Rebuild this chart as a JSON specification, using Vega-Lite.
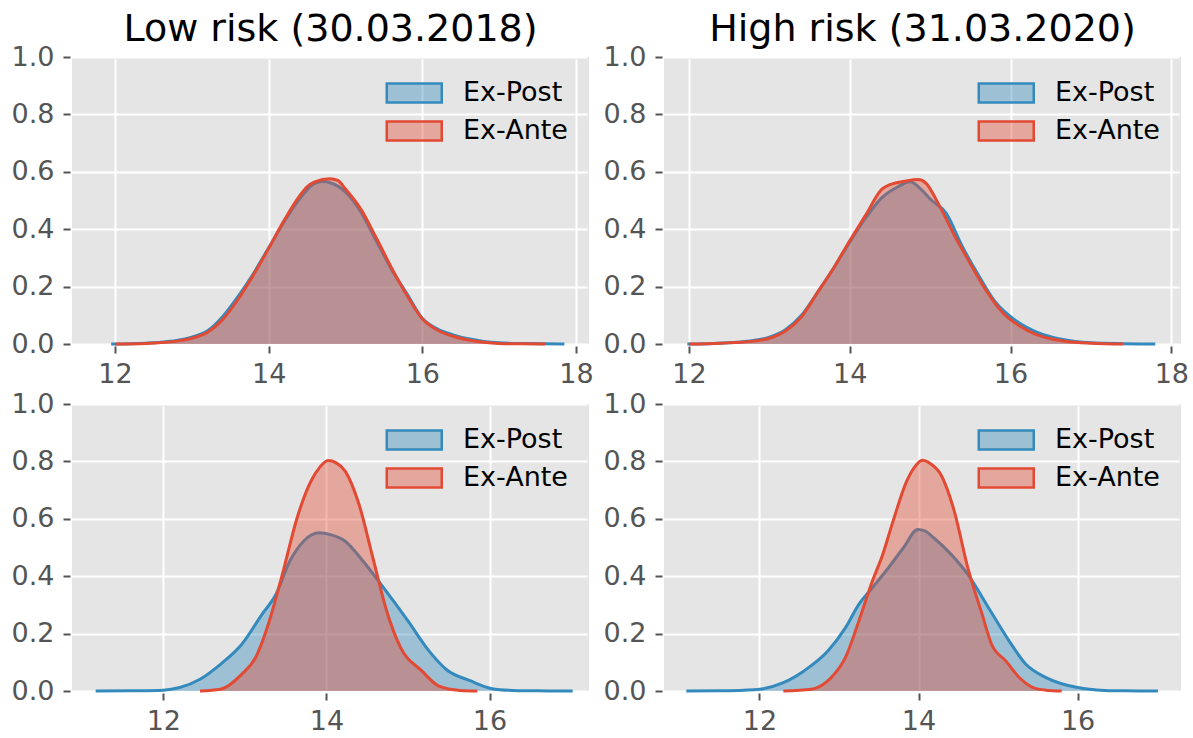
{
  "$schema": "https://vega.github.io/schema/vega-lite/v6.json",
  "padding": {"left": 11, "top": 11, "right": 5, "bottom": 5},
  "background": "white",
  "datasets": {
    "kde": [
      {"panel":"TL","series":"Ex-Post","x":11.95,"y":0},
      {"panel":"TL","series":"Ex-Post","x":12.2,"y":0.001},
      {"panel":"TL","series":"Ex-Post","x":12.4,"y":0.003},
      {"panel":"TL","series":"Ex-Post","x":12.6,"y":0.006},
      {"panel":"TL","series":"Ex-Post","x":12.8,"y":0.012},
      {"panel":"TL","series":"Ex-Post","x":13.0,"y":0.024},
      {"panel":"TL","series":"Ex-Post","x":13.2,"y":0.045},
      {"panel":"TL","series":"Ex-Post","x":13.4,"y":0.095},
      {"panel":"TL","series":"Ex-Post","x":13.6,"y":0.165},
      {"panel":"TL","series":"Ex-Post","x":13.8,"y":0.245},
      {"panel":"TL","series":"Ex-Post","x":14.0,"y":0.335},
      {"panel":"TL","series":"Ex-Post","x":14.2,"y":0.425},
      {"panel":"TL","series":"Ex-Post","x":14.4,"y":0.505},
      {"panel":"TL","series":"Ex-Post","x":14.6,"y":0.56},
      {"panel":"TL","series":"Ex-Post","x":14.7,"y":0.566},
      {"panel":"TL","series":"Ex-Post","x":14.8,"y":0.562},
      {"panel":"TL","series":"Ex-Post","x":15.0,"y":0.53},
      {"panel":"TL","series":"Ex-Post","x":15.2,"y":0.46},
      {"panel":"TL","series":"Ex-Post","x":15.4,"y":0.36},
      {"panel":"TL","series":"Ex-Post","x":15.6,"y":0.26},
      {"panel":"TL","series":"Ex-Post","x":15.8,"y":0.175},
      {"panel":"TL","series":"Ex-Post","x":16.0,"y":0.09},
      {"panel":"TL","series":"Ex-Post","x":16.2,"y":0.052},
      {"panel":"TL","series":"Ex-Post","x":16.4,"y":0.032},
      {"panel":"TL","series":"Ex-Post","x":16.6,"y":0.018},
      {"panel":"TL","series":"Ex-Post","x":16.8,"y":0.009},
      {"panel":"TL","series":"Ex-Post","x":17.0,"y":0.004},
      {"panel":"TL","series":"Ex-Post","x":17.3,"y":0.0015},
      {"panel":"TL","series":"Ex-Post","x":17.6,"y":0.0005},
      {"panel":"TL","series":"Ex-Post","x":17.85,"y":0},
      {"panel":"TL","series":"Ex-Ante","x":12.0,"y":0},
      {"panel":"TL","series":"Ex-Ante","x":12.4,"y":0.002},
      {"panel":"TL","series":"Ex-Ante","x":12.8,"y":0.01},
      {"panel":"TL","series":"Ex-Ante","x":13.0,"y":0.02},
      {"panel":"TL","series":"Ex-Ante","x":13.2,"y":0.04},
      {"panel":"TL","series":"Ex-Ante","x":13.4,"y":0.085},
      {"panel":"TL","series":"Ex-Ante","x":13.6,"y":0.155},
      {"panel":"TL","series":"Ex-Ante","x":13.8,"y":0.24},
      {"panel":"TL","series":"Ex-Ante","x":14.0,"y":0.333},
      {"panel":"TL","series":"Ex-Ante","x":14.2,"y":0.43},
      {"panel":"TL","series":"Ex-Ante","x":14.4,"y":0.515},
      {"panel":"TL","series":"Ex-Ante","x":14.5,"y":0.548},
      {"panel":"TL","series":"Ex-Ante","x":14.6,"y":0.565},
      {"panel":"TL","series":"Ex-Ante","x":14.8,"y":0.576},
      {"panel":"TL","series":"Ex-Ante","x":14.9,"y":0.57},
      {"panel":"TL","series":"Ex-Ante","x":15.0,"y":0.54},
      {"panel":"TL","series":"Ex-Ante","x":15.2,"y":0.47},
      {"panel":"TL","series":"Ex-Ante","x":15.4,"y":0.37},
      {"panel":"TL","series":"Ex-Ante","x":15.6,"y":0.265},
      {"panel":"TL","series":"Ex-Ante","x":15.8,"y":0.17},
      {"panel":"TL","series":"Ex-Ante","x":16.0,"y":0.088},
      {"panel":"TL","series":"Ex-Ante","x":16.2,"y":0.048},
      {"panel":"TL","series":"Ex-Ante","x":16.4,"y":0.027},
      {"panel":"TL","series":"Ex-Ante","x":16.6,"y":0.014},
      {"panel":"TL","series":"Ex-Ante","x":16.8,"y":0.006},
      {"panel":"TL","series":"Ex-Ante","x":17.0,"y":0.002},
      {"panel":"TL","series":"Ex-Ante","x":17.3,"y":0.0005},
      {"panel":"TL","series":"Ex-Ante","x":17.6,"y":0},

      {"panel":"TR","series":"Ex-Post","x":11.98,"y":0},
      {"panel":"TR","series":"Ex-Post","x":12.3,"y":0.002},
      {"panel":"TR","series":"Ex-Post","x":12.6,"y":0.006},
      {"panel":"TR","series":"Ex-Post","x":12.8,"y":0.012},
      {"panel":"TR","series":"Ex-Post","x":13.0,"y":0.024},
      {"panel":"TR","series":"Ex-Post","x":13.2,"y":0.05},
      {"panel":"TR","series":"Ex-Post","x":13.4,"y":0.1},
      {"panel":"TR","series":"Ex-Post","x":13.6,"y":0.18},
      {"panel":"TR","series":"Ex-Post","x":13.8,"y":0.265},
      {"panel":"TR","series":"Ex-Post","x":14.0,"y":0.355},
      {"panel":"TR","series":"Ex-Post","x":14.2,"y":0.44},
      {"panel":"TR","series":"Ex-Post","x":14.4,"y":0.51},
      {"panel":"TR","series":"Ex-Post","x":14.6,"y":0.548},
      {"panel":"TR","series":"Ex-Post","x":14.75,"y":0.565},
      {"panel":"TR","series":"Ex-Post","x":14.9,"y":0.535},
      {"panel":"TR","series":"Ex-Post","x":15.0,"y":0.505},
      {"panel":"TR","series":"Ex-Post","x":15.2,"y":0.455},
      {"panel":"TR","series":"Ex-Post","x":15.4,"y":0.34},
      {"panel":"TR","series":"Ex-Post","x":15.6,"y":0.24},
      {"panel":"TR","series":"Ex-Post","x":15.8,"y":0.15},
      {"panel":"TR","series":"Ex-Post","x":16.0,"y":0.095},
      {"panel":"TR","series":"Ex-Post","x":16.2,"y":0.058},
      {"panel":"TR","series":"Ex-Post","x":16.4,"y":0.033},
      {"panel":"TR","series":"Ex-Post","x":16.6,"y":0.018},
      {"panel":"TR","series":"Ex-Post","x":16.8,"y":0.009},
      {"panel":"TR","series":"Ex-Post","x":17.0,"y":0.004},
      {"panel":"TR","series":"Ex-Post","x":17.4,"y":0.001},
      {"panel":"TR","series":"Ex-Post","x":17.8,"y":0},
      {"panel":"TR","series":"Ex-Ante","x":12.0,"y":0},
      {"panel":"TR","series":"Ex-Ante","x":12.4,"y":0.003},
      {"panel":"TR","series":"Ex-Ante","x":12.8,"y":0.01},
      {"panel":"TR","series":"Ex-Ante","x":13.0,"y":0.02},
      {"panel":"TR","series":"Ex-Ante","x":13.2,"y":0.045},
      {"panel":"TR","series":"Ex-Ante","x":13.4,"y":0.095},
      {"panel":"TR","series":"Ex-Ante","x":13.6,"y":0.18},
      {"panel":"TR","series":"Ex-Ante","x":13.8,"y":0.265},
      {"panel":"TR","series":"Ex-Ante","x":14.0,"y":0.36},
      {"panel":"TR","series":"Ex-Ante","x":14.2,"y":0.45},
      {"panel":"TR","series":"Ex-Ante","x":14.4,"y":0.54},
      {"panel":"TR","series":"Ex-Ante","x":14.5,"y":0.555},
      {"panel":"TR","series":"Ex-Ante","x":14.7,"y":0.568},
      {"panel":"TR","series":"Ex-Ante","x":14.85,"y":0.573},
      {"panel":"TR","series":"Ex-Ante","x":14.95,"y":0.56},
      {"panel":"TR","series":"Ex-Ante","x":15.1,"y":0.49},
      {"panel":"TR","series":"Ex-Ante","x":15.3,"y":0.38},
      {"panel":"TR","series":"Ex-Ante","x":15.5,"y":0.28},
      {"panel":"TR","series":"Ex-Ante","x":15.7,"y":0.185},
      {"panel":"TR","series":"Ex-Ante","x":15.9,"y":0.11},
      {"panel":"TR","series":"Ex-Ante","x":16.1,"y":0.065},
      {"panel":"TR","series":"Ex-Ante","x":16.3,"y":0.035},
      {"panel":"TR","series":"Ex-Ante","x":16.5,"y":0.018},
      {"panel":"TR","series":"Ex-Ante","x":16.7,"y":0.009},
      {"panel":"TR","series":"Ex-Ante","x":17.0,"y":0.003},
      {"panel":"TR","series":"Ex-Ante","x":17.4,"y":0},

      {"panel":"BL","series":"Ex-Post","x":11.17,"y":0},
      {"panel":"BL","series":"Ex-Post","x":11.6,"y":0.001},
      {"panel":"BL","series":"Ex-Post","x":12.0,"y":0.003},
      {"panel":"BL","series":"Ex-Post","x":12.2,"y":0.012},
      {"panel":"BL","series":"Ex-Post","x":12.45,"y":0.041},
      {"panel":"BL","series":"Ex-Post","x":12.7,"y":0.093},
      {"panel":"BL","series":"Ex-Post","x":12.96,"y":0.162},
      {"panel":"BL","series":"Ex-Post","x":13.21,"y":0.267},
      {"panel":"BL","series":"Ex-Post","x":13.38,"y":0.336},
      {"panel":"BL","series":"Ex-Post","x":13.55,"y":0.452},
      {"panel":"BL","series":"Ex-Post","x":13.72,"y":0.522},
      {"panel":"BL","series":"Ex-Post","x":13.91,"y":0.551},
      {"panel":"BL","series":"Ex-Post","x":14.05,"y":0.545},
      {"panel":"BL","series":"Ex-Post","x":14.23,"y":0.522},
      {"panel":"BL","series":"Ex-Post","x":14.45,"y":0.452},
      {"panel":"BL","series":"Ex-Post","x":14.7,"y":0.36},
      {"panel":"BL","series":"Ex-Post","x":15.0,"y":0.244},
      {"panel":"BL","series":"Ex-Post","x":15.26,"y":0.139},
      {"panel":"BL","series":"Ex-Post","x":15.47,"y":0.075},
      {"panel":"BL","series":"Ex-Post","x":15.77,"y":0.035},
      {"panel":"BL","series":"Ex-Post","x":16.02,"y":0.009},
      {"panel":"BL","series":"Ex-Post","x":16.28,"y":0.002},
      {"panel":"BL","series":"Ex-Post","x":16.6,"y":0.0005},
      {"panel":"BL","series":"Ex-Post","x":17.02,"y":0},
      {"panel":"BL","series":"Ex-Ante","x":12.45,"y":0},
      {"panel":"BL","series":"Ex-Ante","x":12.7,"y":0.006},
      {"panel":"BL","series":"Ex-Ante","x":12.96,"y":0.058},
      {"panel":"BL","series":"Ex-Ante","x":13.13,"y":0.116},
      {"panel":"BL","series":"Ex-Ante","x":13.3,"y":0.244},
      {"panel":"BL","series":"Ex-Ante","x":13.47,"y":0.418},
      {"panel":"BL","series":"Ex-Ante","x":13.64,"y":0.603},
      {"panel":"BL","series":"Ex-Ante","x":13.81,"y":0.731},
      {"panel":"BL","series":"Ex-Ante","x":13.92,"y":0.78},
      {"panel":"BL","series":"Ex-Ante","x":14.02,"y":0.803},
      {"panel":"BL","series":"Ex-Ante","x":14.12,"y":0.795},
      {"panel":"BL","series":"Ex-Ante","x":14.23,"y":0.766},
      {"panel":"BL","series":"Ex-Ante","x":14.4,"y":0.65},
      {"panel":"BL","series":"Ex-Ante","x":14.57,"y":0.464},
      {"panel":"BL","series":"Ex-Ante","x":14.74,"y":0.278},
      {"panel":"BL","series":"Ex-Ante","x":14.91,"y":0.151},
      {"panel":"BL","series":"Ex-Ante","x":15.17,"y":0.07},
      {"panel":"BL","series":"Ex-Ante","x":15.38,"y":0.017},
      {"panel":"BL","series":"Ex-Ante","x":15.64,"y":0.002},
      {"panel":"BL","series":"Ex-Ante","x":15.85,"y":0},

      {"panel":"BR","series":"Ex-Post","x":11.08,"y":0},
      {"panel":"BR","series":"Ex-Post","x":11.5,"y":0.001},
      {"panel":"BR","series":"Ex-Post","x":11.8,"y":0.003},
      {"panel":"BR","series":"Ex-Post","x":12.0,"y":0.006},
      {"panel":"BR","series":"Ex-Post","x":12.3,"y":0.029},
      {"panel":"BR","series":"Ex-Post","x":12.56,"y":0.07},
      {"panel":"BR","series":"Ex-Post","x":12.86,"y":0.139},
      {"panel":"BR","series":"Ex-Post","x":13.08,"y":0.22},
      {"panel":"BR","series":"Ex-Post","x":13.25,"y":0.302},
      {"panel":"BR","series":"Ex-Post","x":13.42,"y":0.36},
      {"panel":"BR","series":"Ex-Post","x":13.59,"y":0.418},
      {"panel":"BR","series":"Ex-Post","x":13.81,"y":0.499},
      {"panel":"BR","series":"Ex-Post","x":13.99,"y":0.563},
      {"panel":"BR","series":"Ex-Post","x":14.08,"y":0.558},
      {"panel":"BR","series":"Ex-Post","x":14.19,"y":0.534},
      {"panel":"BR","series":"Ex-Post","x":14.41,"y":0.476},
      {"panel":"BR","series":"Ex-Post","x":14.62,"y":0.406},
      {"panel":"BR","series":"Ex-Post","x":14.88,"y":0.29},
      {"panel":"BR","series":"Ex-Post","x":15.14,"y":0.174},
      {"panel":"BR","series":"Ex-Post","x":15.35,"y":0.093},
      {"panel":"BR","series":"Ex-Post","x":15.61,"y":0.046},
      {"panel":"BR","series":"Ex-Post","x":16.0,"y":0.012},
      {"panel":"BR","series":"Ex-Post","x":16.34,"y":0.002},
      {"panel":"BR","series":"Ex-Post","x":16.6,"y":0.0005},
      {"panel":"BR","series":"Ex-Post","x":17.01,"y":0},
      {"panel":"BR","series":"Ex-Ante","x":12.3,"y":0},
      {"panel":"BR","series":"Ex-Ante","x":12.65,"y":0.006},
      {"panel":"BR","series":"Ex-Ante","x":12.9,"y":0.046},
      {"panel":"BR","series":"Ex-Ante","x":13.08,"y":0.116},
      {"panel":"BR","series":"Ex-Ante","x":13.25,"y":0.244},
      {"panel":"BR","series":"Ex-Ante","x":13.42,"y":0.383},
      {"panel":"BR","series":"Ex-Ante","x":13.55,"y":0.476},
      {"panel":"BR","series":"Ex-Ante","x":13.68,"y":0.592},
      {"panel":"BR","series":"Ex-Ante","x":13.85,"y":0.73},
      {"panel":"BR","series":"Ex-Ante","x":13.95,"y":0.78},
      {"panel":"BR","series":"Ex-Ante","x":14.05,"y":0.804},
      {"panel":"BR","series":"Ex-Ante","x":14.15,"y":0.792},
      {"panel":"BR","series":"Ex-Ante","x":14.28,"y":0.754},
      {"panel":"BR","series":"Ex-Ante","x":14.45,"y":0.626},
      {"panel":"BR","series":"Ex-Ante","x":14.62,"y":0.429},
      {"panel":"BR","series":"Ex-Ante","x":14.8,"y":0.267},
      {"panel":"BR","series":"Ex-Ante","x":14.92,"y":0.162},
      {"panel":"BR","series":"Ex-Ante","x":15.1,"y":0.104},
      {"panel":"BR","series":"Ex-Ante","x":15.27,"y":0.046},
      {"panel":"BR","series":"Ex-Ante","x":15.44,"y":0.012},
      {"panel":"BR","series":"Ex-Ante","x":15.6,"y":0.003},
      {"panel":"BR","series":"Ex-Ante","x":15.8,"y":0}
    ]
  },
  "data": {"name": "kde"},
  "columns": 2,
  "bounds": "flush",
  "spacing": {"row": 60, "column": 75},
  "resolve": {"legend": {"fill": "independent", "stroke": "independent"}},
  "concat": [
    {
      "width": 517, "height": 287,
      "title": {"text": "Low risk (30.03.2018)", "frame": "group"},
      "transform": [{"filter": "datum.panel === 'TL'"}],
      "encoding": {
        "x": {"field": "x", "type": "quantitative", "scale": {"domain": [11.44, 18.17], "nice": false, "zero": false}, "axis": {"values": [12, 14, 16, 18], "title": null}},
        "y": {"field": "y", "type": "quantitative", "scale": {"domain": [0, 1], "nice": false}, "axis": {"values": [0, 0.2, 0.4, 0.6, 0.8, 1], "format": ".1f", "title": null}}
      },
      "layer": [
        {"transform": [{"filter": "datum.series === 'Ex-Post'"}], "mark": {"type": "area", "interpolate": "monotone"},
         "encoding": {"fill": {"field": "series", "type": "nominal", "scale": {"domain": ["Ex-Post", "Ex-Ante"], "range": ["rgba(52,138,189,0.4)", "rgba(226,74,51,0.4)"]}, "legend": {"title": null, "orient": "top-right", "symbolType": "M-3,-0.7L1,-0.7L1,0.7L-3,0.7Z", "symbolSize": 756}}}},
        {"transform": [{"filter": "datum.series === 'Ex-Post'"}], "mark": {"type": "line", "interpolate": "monotone", "strokeWidth": 3},
         "encoding": {"stroke": {"field": "series", "type": "nominal", "scale": {"domain": ["Ex-Post", "Ex-Ante"], "range": ["#348ABD", "#E24A33"]}, "legend": {"title": null, "orient": "top-right", "symbolType": "M-3,-0.7L1,-0.7L1,0.7L-3,0.7Z", "symbolSize": 756}}}},
        {"transform": [{"filter": "datum.series === 'Ex-Ante'"}], "mark": {"type": "area", "interpolate": "monotone"},
         "encoding": {"fill": {"field": "series", "type": "nominal", "scale": {"domain": ["Ex-Post", "Ex-Ante"], "range": ["rgba(52,138,189,0.4)", "rgba(226,74,51,0.4)"]}, "legend": {"title": null, "orient": "top-right", "symbolType": "M-3,-0.7L1,-0.7L1,0.7L-3,0.7Z", "symbolSize": 756}}}},
        {"transform": [{"filter": "datum.series === 'Ex-Ante'"}], "mark": {"type": "line", "interpolate": "monotone", "strokeWidth": 3},
         "encoding": {"stroke": {"field": "series", "type": "nominal", "scale": {"domain": ["Ex-Post", "Ex-Ante"], "range": ["#348ABD", "#E24A33"]}, "legend": {"title": null, "orient": "top-right", "symbolType": "M-3,-0.7L1,-0.7L1,0.7L-3,0.7Z", "symbolSize": 756}}}}
      ]
    },
    {
      "width": 517, "height": 287,
      "title": {"text": "High risk (31.03.2020)", "frame": "group"},
      "transform": [{"filter": "datum.panel === 'TR'"}],
      "encoding": {
        "x": {"field": "x", "type": "quantitative", "scale": {"domain": [11.69, 18.12], "nice": false, "zero": false}, "axis": {"values": [12, 14, 16, 18], "title": null}},
        "y": {"field": "y", "type": "quantitative", "scale": {"domain": [0, 1], "nice": false}, "axis": {"values": [0, 0.2, 0.4, 0.6, 0.8, 1], "format": ".1f", "title": null}}
      },
      "layer": [
        {"transform": [{"filter": "datum.series === 'Ex-Post'"}], "mark": {"type": "area", "interpolate": "monotone"},
         "encoding": {"fill": {"field": "series", "type": "nominal", "scale": {"domain": ["Ex-Post", "Ex-Ante"], "range": ["rgba(52,138,189,0.4)", "rgba(226,74,51,0.4)"]}, "legend": {"title": null, "orient": "top-right", "symbolType": "M-3,-0.7L1,-0.7L1,0.7L-3,0.7Z", "symbolSize": 756}}}},
        {"transform": [{"filter": "datum.series === 'Ex-Post'"}], "mark": {"type": "line", "interpolate": "monotone", "strokeWidth": 3},
         "encoding": {"stroke": {"field": "series", "type": "nominal", "scale": {"domain": ["Ex-Post", "Ex-Ante"], "range": ["#348ABD", "#E24A33"]}, "legend": {"title": null, "orient": "top-right", "symbolType": "M-3,-0.7L1,-0.7L1,0.7L-3,0.7Z", "symbolSize": 756}}}},
        {"transform": [{"filter": "datum.series === 'Ex-Ante'"}], "mark": {"type": "area", "interpolate": "monotone"},
         "encoding": {"fill": {"field": "series", "type": "nominal", "scale": {"domain": ["Ex-Post", "Ex-Ante"], "range": ["rgba(52,138,189,0.4)", "rgba(226,74,51,0.4)"]}, "legend": {"title": null, "orient": "top-right", "symbolType": "M-3,-0.7L1,-0.7L1,0.7L-3,0.7Z", "symbolSize": 756}}}},
        {"transform": [{"filter": "datum.series === 'Ex-Ante'"}], "mark": {"type": "line", "interpolate": "monotone", "strokeWidth": 3},
         "encoding": {"stroke": {"field": "series", "type": "nominal", "scale": {"domain": ["Ex-Post", "Ex-Ante"], "range": ["#348ABD", "#E24A33"]}, "legend": {"title": null, "orient": "top-right", "symbolType": "M-3,-0.7L1,-0.7L1,0.7L-3,0.7Z", "symbolSize": 756}}}}
      ]
    },
    {
      "width": 517, "height": 287,
      "transform": [{"filter": "datum.panel === 'BL'"}],
      "encoding": {
        "x": {"field": "x", "type": "quantitative", "scale": {"domain": [10.88, 17.22], "nice": false, "zero": false}, "axis": {"values": [12, 14, 16], "title": null}},
        "y": {"field": "y", "type": "quantitative", "scale": {"domain": [0, 1], "nice": false}, "axis": {"values": [0, 0.2, 0.4, 0.6, 0.8, 1], "format": ".1f", "title": null}}
      },
      "layer": [
        {"transform": [{"filter": "datum.series === 'Ex-Post'"}], "mark": {"type": "area", "interpolate": "monotone"},
         "encoding": {"fill": {"field": "series", "type": "nominal", "scale": {"domain": ["Ex-Post", "Ex-Ante"], "range": ["rgba(52,138,189,0.4)", "rgba(226,74,51,0.4)"]}, "legend": {"title": null, "orient": "top-right", "symbolType": "M-3,-0.7L1,-0.7L1,0.7L-3,0.7Z", "symbolSize": 756}}}},
        {"transform": [{"filter": "datum.series === 'Ex-Post'"}], "mark": {"type": "line", "interpolate": "monotone", "strokeWidth": 3},
         "encoding": {"stroke": {"field": "series", "type": "nominal", "scale": {"domain": ["Ex-Post", "Ex-Ante"], "range": ["#348ABD", "#E24A33"]}, "legend": {"title": null, "orient": "top-right", "symbolType": "M-3,-0.7L1,-0.7L1,0.7L-3,0.7Z", "symbolSize": 756}}}},
        {"transform": [{"filter": "datum.series === 'Ex-Ante'"}], "mark": {"type": "area", "interpolate": "monotone"},
         "encoding": {"fill": {"field": "series", "type": "nominal", "scale": {"domain": ["Ex-Post", "Ex-Ante"], "range": ["rgba(52,138,189,0.4)", "rgba(226,74,51,0.4)"]}, "legend": {"title": null, "orient": "top-right", "symbolType": "M-3,-0.7L1,-0.7L1,0.7L-3,0.7Z", "symbolSize": 756}}}},
        {"transform": [{"filter": "datum.series === 'Ex-Ante'"}], "mark": {"type": "line", "interpolate": "monotone", "strokeWidth": 3},
         "encoding": {"stroke": {"field": "series", "type": "nominal", "scale": {"domain": ["Ex-Post", "Ex-Ante"], "range": ["#348ABD", "#E24A33"]}, "legend": {"title": null, "orient": "top-right", "symbolType": "M-3,-0.7L1,-0.7L1,0.7L-3,0.7Z", "symbolSize": 756}}}}
      ]
    },
    {
      "width": 517, "height": 287,
      "transform": [{"filter": "datum.panel === 'BR'"}],
      "encoding": {
        "x": {"field": "x", "type": "quantitative", "scale": {"domain": [10.8, 17.3], "nice": false, "zero": false}, "axis": {"values": [12, 14, 16], "title": null}},
        "y": {"field": "y", "type": "quantitative", "scale": {"domain": [0, 1], "nice": false}, "axis": {"values": [0, 0.2, 0.4, 0.6, 0.8, 1], "format": ".1f", "title": null}}
      },
      "layer": [
        {"transform": [{"filter": "datum.series === 'Ex-Post'"}], "mark": {"type": "area", "interpolate": "monotone"},
         "encoding": {"fill": {"field": "series", "type": "nominal", "scale": {"domain": ["Ex-Post", "Ex-Ante"], "range": ["rgba(52,138,189,0.4)", "rgba(226,74,51,0.4)"]}, "legend": {"title": null, "orient": "top-right", "symbolType": "M-3,-0.7L1,-0.7L1,0.7L-3,0.7Z", "symbolSize": 756}}}},
        {"transform": [{"filter": "datum.series === 'Ex-Post'"}], "mark": {"type": "line", "interpolate": "monotone", "strokeWidth": 3},
         "encoding": {"stroke": {"field": "series", "type": "nominal", "scale": {"domain": ["Ex-Post", "Ex-Ante"], "range": ["#348ABD", "#E24A33"]}, "legend": {"title": null, "orient": "top-right", "symbolType": "M-3,-0.7L1,-0.7L1,0.7L-3,0.7Z", "symbolSize": 756}}}},
        {"transform": [{"filter": "datum.series === 'Ex-Ante'"}], "mark": {"type": "area", "interpolate": "monotone"},
         "encoding": {"fill": {"field": "series", "type": "nominal", "scale": {"domain": ["Ex-Post", "Ex-Ante"], "range": ["rgba(52,138,189,0.4)", "rgba(226,74,51,0.4)"]}, "legend": {"title": null, "orient": "top-right", "symbolType": "M-3,-0.7L1,-0.7L1,0.7L-3,0.7Z", "symbolSize": 756}}}},
        {"transform": [{"filter": "datum.series === 'Ex-Ante'"}], "mark": {"type": "line", "interpolate": "monotone", "strokeWidth": 3},
         "encoding": {"stroke": {"field": "series", "type": "nominal", "scale": {"domain": ["Ex-Post", "Ex-Ante"], "range": ["#348ABD", "#E24A33"]}, "legend": {"title": null, "orient": "top-right", "symbolType": "M-3,-0.7L1,-0.7L1,0.7L-3,0.7Z", "symbolSize": 756}}}}
      ]
    }
  ],
  "config": {
    "font": "DejaVu Sans",
    "view": {"fill": "#E5E5E5", "stroke": null},
    "axis": {
      "domain": false, "grid": true, "gridColor": "white", "gridWidth": 2, "gridOpacity": 1,
      "ticks": true, "tickColor": "#555555", "tickWidth": 2, "tickSize": 7, "offset": 2,
      "labelFont": "DejaVu Sans", "labelFontSize": 27, "labelColor": "#555555", "labelPadding": 9,
      "labelFlush": false, "labelOverlap": false
    },
    "axisX": {"labelPadding": 8},
    "legend": {
      "labelFont": "DejaVu Sans", "labelFontSize": 27, "labelColor": "black", "labelOffset": 20,
      "symbolStrokeWidth": 2.5, "rowPadding": 8, "offset": 21, "padding": 0
    },
    "title": {"font": "DejaVu Sans", "fontSize": 38, "fontWeight": "normal", "color": "black", "anchor": "middle", "offset": -6}
  }
}
